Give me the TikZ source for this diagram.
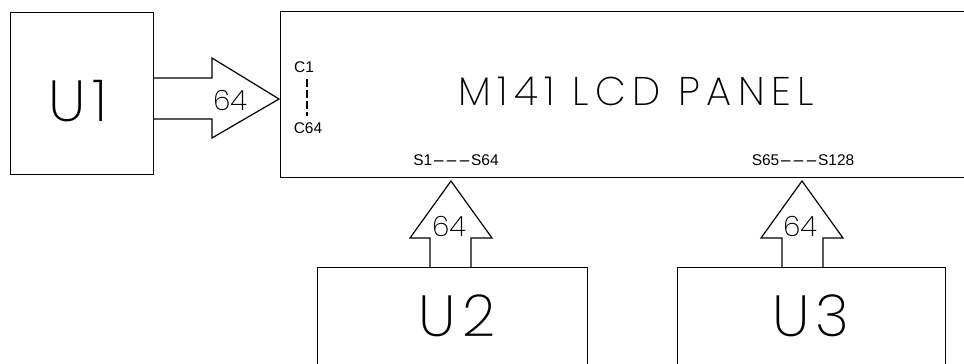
\documentclass[tikz,border=0pt]{standalone}
\usepackage{fontspec}
\usetikzlibrary{calc}
\setmainfont{Liberation Sans}
\newfontfamily\thinfont{Poppins ExtraLight}
\newfontfamily\titlefont{Poppins ExtraLight}[LetterSpace=16]
\newfontfamily\bigfont{Poppins ExtraLight}[LetterSpace=10]
\newcommand{\wdash}{\scalebox{2.5}[1]{-}}
\begin{document}
\begin{tikzpicture}[x=1pt,y=-1pt,line join=miter,
  blk/.style={draw,line width=1.4pt,minimum width=#1,anchor=north west,inner sep=0pt},
  fat/.style={draw,line width=1.2pt},
  big/.style={font=\bigfont\fontsize{58}{58}\selectfont,inner sep=0pt},
  title/.style={font=\titlefont\fontsize{40}{40}\selectfont,inner sep=0pt},
  num/.style={font=\thinfont\fontsize{28}{28}\selectfont,inner sep=0pt},
  pin/.style={font=\fontsize{15.5}{15.5}\selectfont,inner sep=0pt}]
\useasboundingbox (0,0) rectangle (964,364);
% boxes
\node[blk=143pt,minimum height=162pt] (u1) at (10,12) {};
\node[blk=720pt,minimum height=166pt] (panel) at (280,11) {};
\node[blk=270pt,minimum height=150pt] (u2) at (317,267) {};
\node[blk=268pt,minimum height=150pt] (u3) at (677,267) {};
% labels
\node[big] (lu1) at (78,101) {U1};
\node[big] (lu2) at (457,316) {U2};
\node[big] (lu3) at (811,316) {U3};
\node[title] (lp) at (636,91) {M141 LCD PANEL};
\node[pin] (c1) at (304,67.5) {C1};
\node[pin] (c64) at (308,128) {C64};
\node[pin] (s1) at (456,160) {S1\wdash\wdash\wdash S64};
\node[pin] (s65) at (803,160) {S65\wdash\wdash\wdash S128};
\draw[line width=1.2pt,dash pattern=on 8pt off 3pt] ($(c1.south)+(3,6)$) -- ($(c64.north)+(-1,-6)$);
% bus arrows
\draw[fat] (153,78) -- (212,78) -- (212,58) -- (279,99) -- (212,138) -- (212,119) -- (153,119);
\draw[fat] (430,267) -- (430,238) -- (410,238) -- (451,181) -- (492,238) -- (471,238) -- (471,267);
\draw[fat] (782,267) -- (782,238) -- (761,238) -- (802,181) -- (843,238) -- (823,238) -- (823,267);
\node[num] (n1) at (230,100) {64};
\node[num] (n2) at (449,226) {64};
\node[num] (n3) at (800,226) {64};
\end{tikzpicture}
\end{document}
